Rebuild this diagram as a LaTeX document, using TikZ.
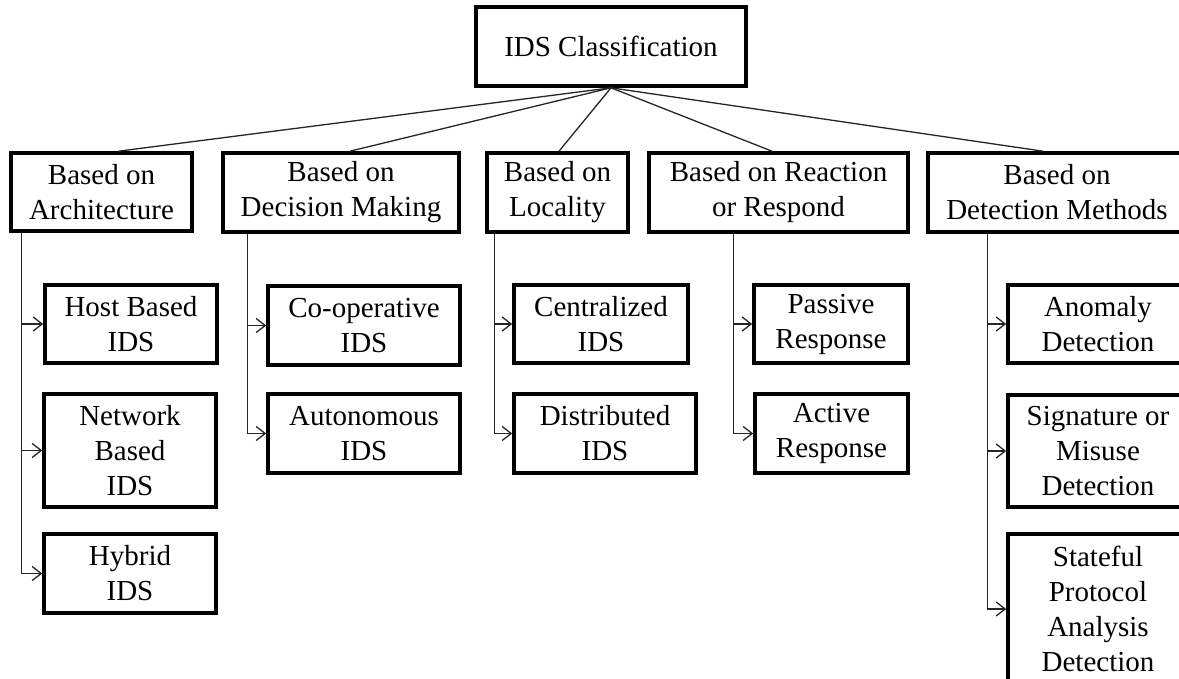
\documentclass[tikz,border=0pt]{standalone}
\usepackage{fontspec}
\setmainfont{Liberation Serif}
\usetikzlibrary{arrows.meta}
\begin{document}
\begin{tikzpicture}[x=1pt,y=-1pt,
  box/.style={draw=black,line width=3.6pt,fill=white,align=center,inner sep=0pt,
    font=\fontsize{29pt}{35pt}\selectfont},
  branch/.style={draw=black!85,line width=1.3pt},
  link/.style={draw=black!85,line width=1.3pt,-{Straight Barb[length=9pt,width=14pt,line width=1.3pt]}}]
\useasboundingbox (0,0) rectangle (1179,679);
\fill[white] (0,0) rectangle (1179,679);

% root
\node[box,minimum width=270pt,minimum height=79pt] (root) at (611,46.5) {IDS Classification};

% categories
\node[box,minimum width=181pt,minimum height=78pt] (arch) at (101.5,192) {Based on\\Architecture};
\node[box,minimum width=236pt,minimum height=79pt] (dec) at (341,192.5) {Based on\\Decision Making};
\node[box,minimum width=141pt,minimum height=79pt] (loc) at (557.5,192.5) {Based on\\Locality};
\node[box,minimum width=259pt,minimum height=79pt] (reac) at (778.5,192.5) {Based on Reaction\\or Respond};
\node[box,minimum width=258pt,minimum height=79pt] (det) at (1057,192.5) {Based on\\Detection Methods};

% architecture
\node[box,minimum width=172pt,minimum height=78pt] (host) at (131,324) {Host Based\\IDS};
\node[box,minimum width=172pt,minimum height=113pt] (net) at (130,450.5) {Network\\Based\\IDS};
\node[box,minimum width=172pt,minimum height=79pt] (hyb) at (130,573.5) {Hybrid\\IDS};

% decision making
\node[box,minimum width=192pt,minimum height=79pt] (coop) at (364,325.5) {Co-operative\\IDS};
\node[box,minimum width=192pt,minimum height=79pt] (auto) at (364,433.5) {Autonomous\\IDS};

% locality
\node[box,minimum width=174pt,minimum height=78pt] (cent) at (601,324) {Centralized\\IDS};
\node[box,minimum width=182pt,minimum height=79pt] (dist) at (605,433.5) {Distributed\\IDS};

% reaction
\node[box,minimum width=154pt,minimum height=78pt] (pass) at (831,324) {Passive\\Response};
\node[box,minimum width=153pt,minimum height=79pt] (act) at (831.5,433.5) {Active\\Response};

% detection methods
\node[box,minimum width=180pt,minimum height=78pt] (anom) at (1098,324) {Anomaly\\Detection};
\node[box,minimum width=180pt,minimum height=112pt] (sig) at (1098,451) {Signature or\\Misuse\\Detection};
\node[box,minimum width=180pt,minimum height=150pt] (stat) at (1098,609) {Stateful\\Protocol\\Analysis\\Detection};

% root to categories
\draw[branch] (root.south) -- ([xshift=17pt]arch.north);
\draw[branch] (root.south) -- ([xshift=9pt]dec.north);
\draw[branch] (root.south) -- ([xshift=1.5pt]loc.north);
\draw[branch] (root.south) -- ([xshift=-6.5pt]reac.north);
\draw[branch] (root.south) -- ([xshift=-14pt]det.north);

% trunks
\coordinate (ta) at ([xshift=12pt]arch.south west);
\coordinate (td) at ([xshift=26pt]dec.south west);
\coordinate (tl) at ([xshift=9pt]loc.south west);
\coordinate (tr) at ([xshift=86pt]reac.south west);
\coordinate (tm) at ([xshift=61pt]det.south west);

\draw[link] (ta) |- (host.west);
\draw[link] (ta) |- (net.west);
\draw[link] (ta) |- (hyb.west);

\draw[link] (td) |- (coop.west);
\draw[link] (td) |- (auto.west);

\draw[link] (tl) |- (cent.west);
\draw[link] (tl) |- (dist.west);

\draw[link] (tr) |- (pass.west);
\draw[link] (tr) |- (act.west);

\draw[link] (tm) |- (anom.west);
\draw[link] (tm) |- (sig.west);
\draw[link] (tm) |- (stat.west);
\end{tikzpicture}
\end{document}
